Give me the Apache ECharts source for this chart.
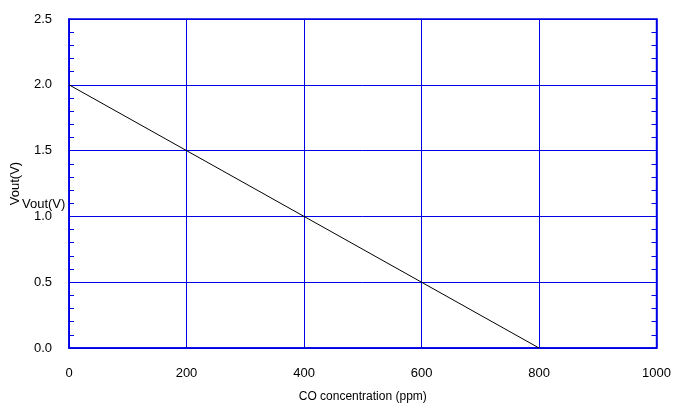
<!DOCTYPE html>
<html><head><meta charset="utf-8">
<script src="https://cdn.jsdelivr.net/npm/echarts@6/dist/echarts.min.js"></script>
<style>html,body{margin:0;padding:0;background:#fff}#c{width:674px;height:408px}</style>
</head><body><div id="c"></div>
<script>
const concentration = [0, 800];
const vout = [2.0, 0.0];
const xTicks = ['0', '200', '400', '600', '800', '1000'];
const yTicks = ['0.0', '0.5', '1.0', '1.5', '2.0', '2.5'];
const BLUE = '#0000e6';
const chart = echarts.init(document.getElementById('c'));
const fontFamily = '"Liberation Sans", Arial, sans-serif';
chart.setOption({
  animation: false,
  grid: { left: 69, right: 15, top: 19, bottom: 54, show: true, borderColor: BLUE, borderWidth: 1.5, backgroundColor: 'transparent' },
  xAxis: {
    type: 'value', min: 0, max: 1000, interval: 200,
    name: 'CO concentration (ppm)', nameLocation: 'middle', nameGap: 43,
    nameTextStyle: { color: '#000', fontSize: 12, fontFamily },
    axisLine: { show: true, lineStyle: { color: BLUE, width: 1.5 } },
    axisTick: { show: false },
    axisLabel: { color: '#000', fontSize: 13, fontFamily, margin: 19, formatter: (v) => xTicks[Math.round(v / 200)] },
    splitLine: { show: true, lineStyle: { color: [BLUE], width: 1 } }
  },
  yAxis: [{
    type: 'value', min: 0, max: 2.5, interval: 0.5,
    name: 'Vout(V)', nameLocation: 'middle', nameGap: 47, nameRotate: 90,
    nameTextStyle: { color: '#000', fontSize: 13, fontFamily },
    axisLine: { show: true, lineStyle: { color: BLUE, width: 1.5 } },
    axisTick: { show: false, inside: true },
    minorTick: { show: true, splitNumber: 5, length: 5, lineStyle: { color: BLUE, width: 1 } },
    axisLabel: { color: '#000', fontSize: 13, fontFamily, margin: 17, padding: [0, 0, 4, 0], formatter: (v) => yTicks[Math.round(v / 0.5)] },
    splitLine: { show: true, lineStyle: { color: [BLUE], width: 1 } }
  }, {
    type: 'value', min: 0, max: 2.5, interval: 0.5, position: 'right',
    axisLine: { show: true, lineStyle: { color: BLUE, width: 1.5 } },
    axisTick: { show: false, inside: true },
    minorTick: { show: true, splitNumber: 5, length: 5, lineStyle: { color: BLUE, width: 1 } },
    axisLabel: { show: false },
    splitLine: { show: false }
  }],
  graphic: [{
    type: 'text', left: 22, top: 198,
    style: { text: 'Vout(V)', fill: '#000', font: '13px ' + fontFamily }
  }],
  series: [{
    type: 'line', yAxisIndex: 0, symbol: 'none',
    lineStyle: { color: '#000', width: 1 },
    data: concentration.map((c, i) => [c, vout[i]])
  }]
});
</script></body></html>
